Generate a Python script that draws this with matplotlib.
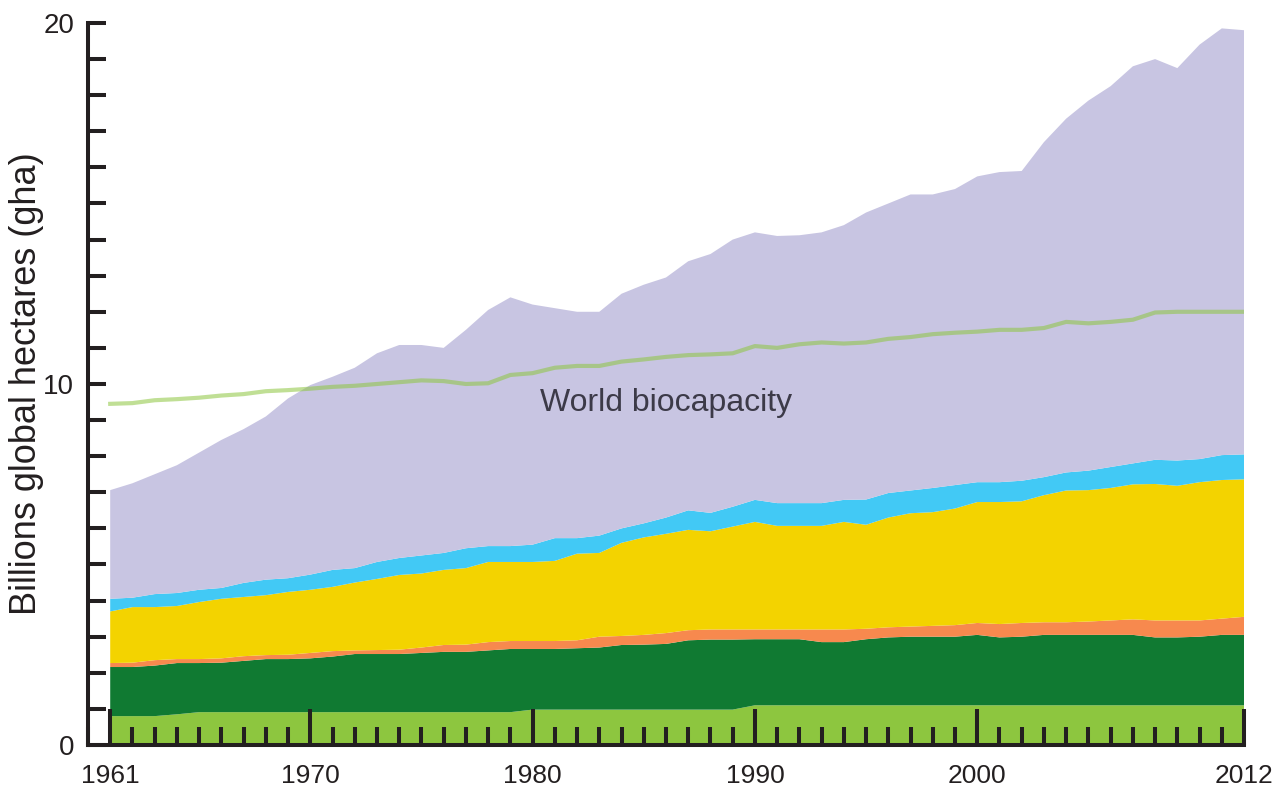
import numpy as np
import matplotlib
matplotlib.use('Agg')
import matplotlib.pyplot as plt
from matplotlib.ticker import FixedLocator, MultipleLocator

# Years covered by the chart
years = np.arange(1961, 2013)

# Footprint components, billions gha, bottom to top
grazing = [0.80, 0.80, 0.80, 0.85] + [0.91] * 15 + [0.98] * 10 + [1.10] * 23
forest = [1.36, 1.36, 1.40, 1.42, 1.36, 1.37, 1.42, 1.47, 1.47, 1.49,
          1.54, 1.61, 1.61, 1.61, 1.64, 1.67, 1.67, 1.71, 1.75, 1.68,
          1.68, 1.70, 1.72, 1.79, 1.80, 1.82, 1.92, 1.94, 1.94, 1.83,
          1.83, 1.83, 1.75, 1.75, 1.83, 1.88, 1.90, 1.90, 1.90, 1.95,
          1.88, 1.90, 1.95, 1.95, 1.95, 1.95, 1.95, 1.88, 1.88, 1.90,
          1.95, 1.95]
builtup = [0.11, 0.12, 0.15, 0.11, 0.11, 0.12, 0.13, 0.11, 0.12, 0.15,
           0.15, 0.10, 0.11, 0.12, 0.15, 0.19, 0.20, 0.23, 0.22, 0.22,
           0.22, 0.22, 0.30, 0.25, 0.27, 0.30, 0.28, 0.28, 0.28, 0.27,
           0.27, 0.27, 0.35, 0.35, 0.29, 0.28, 0.28, 0.30, 0.32, 0.33,
           0.37, 0.38, 0.35, 0.35, 0.37, 0.40, 0.43, 0.47, 0.47, 0.45,
           0.45, 0.50]
cropland = [1.43, 1.54, 1.47, 1.47, 1.58, 1.65, 1.64, 1.66, 1.74, 1.75,
            1.78, 1.88, 1.97, 2.07, 2.05, 2.08, 2.12, 2.22, 2.19, 2.19,
            2.22, 2.40, 2.32, 2.58, 2.70, 2.75, 2.78, 2.72, 2.85, 2.98,
            2.87, 2.87, 2.87, 2.98, 2.88, 3.04, 3.14, 3.15, 3.23, 3.35,
            3.38, 3.37, 3.52, 3.65, 3.64, 3.67, 3.74, 3.78, 3.73, 3.83,
            3.84, 3.81]
fishing = [0.35, 0.26, 0.36, 0.36, 0.34, 0.30, 0.39, 0.43, 0.38, 0.42,
           0.47, 0.40, 0.47, 0.47, 0.50, 0.47, 0.55, 0.44, 0.44, 0.48,
           0.63, 0.43, 0.48, 0.40, 0.39, 0.45, 0.54, 0.51, 0.55, 0.61,
           0.63, 0.63, 0.63, 0.61, 0.70, 0.68, 0.63, 0.67, 0.65, 0.55,
           0.55, 0.57, 0.50, 0.50, 0.54, 0.58, 0.58, 0.67, 0.70, 0.64,
           0.69, 0.69]
carbon = [3.01, 3.17, 3.32, 3.54, 3.80, 4.10, 4.26, 4.52, 4.98, 5.25,
          5.35, 5.55, 5.78, 5.90, 5.83, 5.68, 6.05, 6.54, 6.89, 6.65,
          6.37, 6.27, 6.20, 6.50, 6.61, 6.65, 6.90, 7.17, 7.40, 7.41,
          7.40, 7.42, 7.50, 7.61, 7.95, 8.02, 8.20, 8.13, 8.20, 8.47,
          8.59, 8.58, 9.28, 9.80, 10.25, 10.55, 11.00, 11.10, 10.87, 11.48,
          11.82, 11.75]

# World biocapacity line
biocapacity = [9.45, 9.47, 9.55, 9.58, 9.62, 9.68, 9.72, 9.80, 9.83, 9.87,
               9.92, 9.95, 10.00, 10.05, 10.10, 10.08, 10.00, 10.02, 10.25, 10.30,
               10.45, 10.50, 10.50, 10.62, 10.68, 10.75, 10.80, 10.82, 10.85, 11.05,
               11.00, 11.10, 11.15, 11.12, 11.15, 11.25, 11.30, 11.38, 11.42, 11.45,
               11.50, 11.50, 11.55, 11.72, 11.68, 11.72, 11.78, 11.98, 12.00, 12.00,
               12.00, 12.00]

layer_colors = ['#8DC63F', '#107A32', '#F7894E', '#F3D300', '#42C9F5', '#C8C5E2']
labeled_years = [1961, 1970, 1980, 1990, 2000, 2012]
ink = '#231F20'
font = ['Liberation Sans', 'DejaVu Sans']

fig = plt.figure(figsize=(12.75, 7.95), dpi=100)
ax = fig.add_axes([0.069, 0.0629, 0.9067, 0.9082])

ax.stackplot(years, grazing, forest, builtup, cropland, fishing, carbon,
             colors=layer_colors, linewidth=0)
ax.plot(years, biocapacity, color='#8DC63F', linewidth=3, alpha=0.55)
ax.text(1986.0, 9.25, 'World biocapacity', ha='center', va='baseline',
        fontsize=23, color='#3c3a48', family=font)

ax.set_xlim(1960, 2012)
ax.set_ylim(0, 20)

# spines
for side in ['top', 'right']:
    ax.spines[side].set_visible(False)
for side in ['left', 'bottom']:
    ax.spines[side].set_linewidth(2.9)
    ax.spines[side].set_color(ink)

# x ticks: one small tick per year, long ones at labelled years
ax.xaxis.set_major_locator(FixedLocator(labeled_years))
ax.xaxis.set_minor_locator(MultipleLocator(1))
ax.set_xticklabels([str(y) for y in labeled_years], family=font, fontsize=19, color=ink)
ax.tick_params(axis='x', which='major', direction='in', length=26, width=2.9, color=ink, pad=14)
ax.tick_params(axis='x', which='minor', direction='in', length=13, width=2.9, color=ink)

# y ticks: every unit, labels only at 0, 10, 20
ax.set_yticks(np.arange(0, 21))
ax.set_yticklabels([str(v) if v % 10 == 0 else '' for v in range(0, 21)],
                   family=font, fontsize=20, color=ink)
ax.tick_params(axis='y', direction='in', length=13, width=2.9, color=ink, pad=10)

ax.set_ylabel('Billions global hectares (gha)', fontsize=26, color=ink, family=font)
ax.yaxis.set_label_coords(-0.038, 0.5)

fig.savefig('out.png', dpi=100)
